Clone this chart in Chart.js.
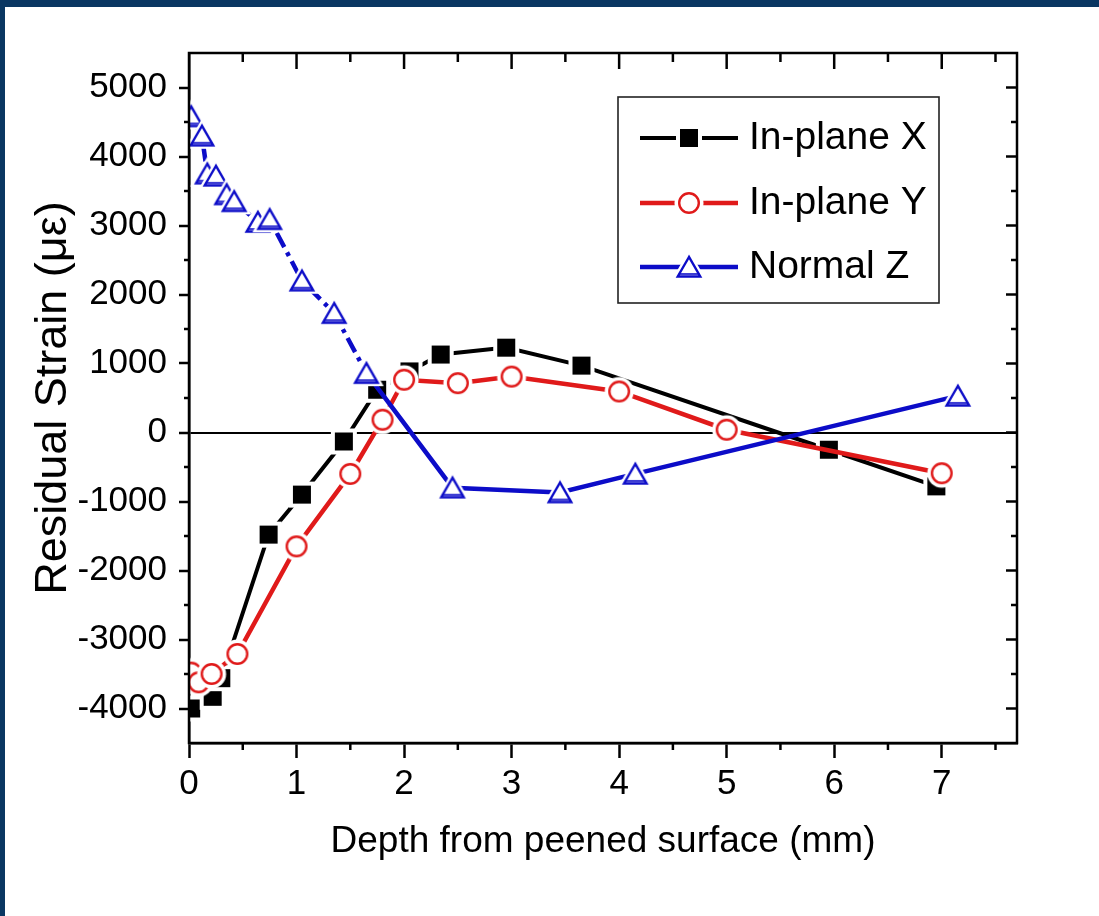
<!DOCTYPE html>
<html>
<head>
<meta charset="utf-8">
<title>Residual strain vs depth</title>
<script src="https://cdn.jsdelivr.net/npm/chart.js@4.4.1/dist/chart.umd.min.js"></script>
<style>
html, body { margin: 0; padding: 0; background: #fff; }
#wrap {
  position: absolute; left: 0; top: 0;
  width: 1094px; height: 909px;
  border-top: 7px solid #0a3762;
  border-left: 5px solid #0a3762;
}
canvas { display: block; }
</style>
</head>
<body>
<div id="wrap"><canvas id="grafica" width="1094" height="909"></canvas></div>
<script>
// depth (mm) and residual strain (micro-strain) per measured direction
const depthX  = [0.02, 0.22, 0.30, 0.74, 1.05, 1.44, 1.75, 2.05, 2.34, 2.95, 3.65, 5.95, 6.95];
const strainX = [-4000, -3830, -3560, -1480, -900, -130, 620, 885, 1130, 1230, 970, -250, -780];

const depthY  = [0.02, 0.09, 0.21, 0.45, 1.0, 1.5, 1.8, 2.0, 2.5, 3.0, 4.0, 5.0, 7.0];
const strainY = [-3480, -3620, -3500, -3210, -1650, -600, 185, 765, 715, 810, 595, 40, -590];

const depthZ  = [0.02, 0.12, 0.17, 0.25, 0.35, 0.42, 0.64, 0.75, 1.05, 1.35, 1.65, 2.45, 3.45, 4.15, 7.15];
const strainZ = [4580, 4300, 3750, 3720, 3450, 3350, 3050, 3090, 2200, 1730, 860, -800, -870, -600, 530];

const seriesNames = ['In-plane X', 'In-plane Y', 'Normal Z'];
const xTicks = [0, 1, 2, 3, 4, 5, 6, 7];
const yTicks = [-4000, -3000, -2000, -1000, 0, 1000, 2000, 3000, 4000, 5000];

const sans = "'Liberation Sans', Arial, sans-serif";

const BLACK = '#000000';
const RED = '#e01a1a';
const BLUE = '#0c0cc8';

function pts(xs, ys) {
  return xs.map((x, i) => ({ x: x, y: ys[i] }));
}

// marker drawn on a small canvas, with a white gap around it so the line stops short
function markerCanvas(kind, color) {
  const s = 36;
  const c = document.createElement('canvas');
  c.width = s; c.height = s;
  const g = c.getContext('2d');
  const m = s / 2;
  if (kind === 'square') {
    g.fillStyle = '#fff';
    g.fillRect(m - 13, m - 13, 26, 26);
    g.fillStyle = color;
    g.fillRect(m - 9, m - 9, 18, 18);
  } else if (kind === 'circle') {
    g.fillStyle = '#fff';
    g.beginPath(); g.arc(m, m, 14.5, 0, Math.PI * 2); g.fill();
    g.strokeStyle = color; g.lineWidth = 2.4;
    g.beginPath(); g.arc(m, m, 9.8, 0, Math.PI * 2); g.fill(); g.stroke();
  } else {
    const r = 13, dy = 3;
    const tri = (rr) => {
      g.beginPath();
      g.moveTo(m, m + dy - rr);
      g.lineTo(m - rr * 0.866, m + dy + rr / 2);
      g.lineTo(m + rr * 0.866, m + dy + rr / 2);
      g.closePath();
    };
    g.fillStyle = '#fff';
    tri(r + 7); g.fill();
    g.strokeStyle = color; g.lineWidth = 2.4;
    tri(r); g.fill(); g.stroke();
    // thicker base, as the plotted triangles have
    g.beginPath();
    g.moveTo(m - r * 0.866 + 1, m + dy + r / 2 - 2.5);
    g.lineTo(m + r * 0.866 - 1, m + dy + r / 2 - 2.5);
    g.lineWidth = 1.6; g.stroke();
  }
  return c;
}

const markX = markerCanvas('square', BLACK);
const markY = markerCanvas('circle', RED);
const markZ = markerCanvas('triangle', BLUE);

// box legend inside the plot area
const boxLegend = {
  id: 'boxLegend',
  afterDraw(chart, args, o) {
    const { ctx, chartArea: a } = chart;
    const left = a.left + o.dx, top = a.top + o.dy;
    ctx.save();
    ctx.fillStyle = '#fff';
    ctx.fillRect(left, top, o.w, o.h);
    ctx.strokeStyle = '#222';
    ctx.lineWidth = 1.6;
    ctx.strokeRect(left, top, o.w, o.h);
    chart.data.datasets.forEach((ds, i) => {
      const yy = top + o.rows[i];
      ctx.strokeStyle = ds.borderColor;
      ctx.lineWidth = ds.borderWidth;
      ctx.setLineDash([]);
      ctx.beginPath();
      ctx.moveTo(left + o.lineL, yy);
      ctx.lineTo(left + o.lineR, yy);
      ctx.stroke();
      const mk = ds.pointStyle;
      const cx = left + (o.lineL + o.lineR) / 2;
      ctx.drawImage(mk, cx - mk.width / 2, yy - mk.height / 2);
      ctx.fillStyle = '#000';
      ctx.font = o.fontSize + 'px ' + sans;
      ctx.textBaseline = 'middle';
      ctx.textAlign = 'left';
      ctx.fillText(ds.label, left + o.textX, yy);
    });
    ctx.restore();
  }
};

// closed frame, minor ticks and inward ticks on top/right
const frame = {
  id: 'frame',
  afterDatasetsDraw(chart) {
    const { ctx, chartArea: a, scales: { x, y } } = chart;
    const seg = (x1, y1, x2, y2) => { ctx.beginPath(); ctx.moveTo(x1, y1); ctx.lineTo(x2, y2); ctx.stroke(); };
    ctx.save();
    ctx.strokeStyle = '#000';
    ctx.lineWidth = 2.5;
    ctx.strokeRect(a.left, a.top, a.right - a.left, a.bottom - a.top);
    for (let v = 0.5; v <= 7.5; v += 0.5) {
      const px = x.getPixelForValue(v);
      const major = v % 1 === 0;
      seg(px, a.top, px, a.top + (major ? 16 : 9));
      if (!major) seg(px, a.bottom, px, a.bottom + 7);
    }
    for (let v = -4000; v <= 5000; v += 500) {
      const py = y.getPixelForValue(v);
      const major = v % 1000 === 0;
      seg(a.right, py, a.right - (major ? 11 : 6), py);
      if (!major) seg(a.left, py, a.left - 5, py);
    }
    ctx.restore();
  }
};

Chart.defaults.font.family = sans;
Chart.defaults.color = '#000';

new Chart(document.getElementById('grafica'), {
  type: 'line',
  data: {
    datasets: [
      {
        label: seriesNames[0],
        data: pts(depthX, strainX),
        borderColor: BLACK,
        borderWidth: 4,
        pointStyle: markX,
        pointRadius: 12,
        order: 2,
        clip: 0
      },
      {
        label: seriesNames[1],
        data: pts(depthY, strainY),
        borderColor: RED,
        borderWidth: 4.5,
        pointStyle: markY,
        pointRadius: 12,
        order: 1,
        clip: 0
      },
      {
        label: seriesNames[2],
        data: pts(depthZ, strainZ),
        borderColor: BLUE,
        borderWidth: 4.5,
        pointStyle: markZ,
        pointRadius: 12,
        order: 0,
        clip: 0,
        segment: {
          borderDash: c => c.p1.parsed.x <= 1.66 ? [16, 6, 4, 6] : undefined
        }
      }
    ]
  },
  options: {
    responsive: false,
    animation: false,
    events: [],
    layout: { padding: { top: 46, right: 82, left: 0, bottom: 0 } },
    plugins: {
      legend: { display: false },
      tooltip: { enabled: false },
      boxLegend: { dx: 429, dy: 44, w: 321, h: 206, rows: [41, 106, 170], lineL: 22, lineR: 120, textX: 131, fontSize: 39 }
    },
    scales: {
      x: {
        type: 'linear',
        min: 0,
        max: 7.7,
        afterBuildTicks: s => { s.ticks = xTicks.map(v => ({ value: v })); },
        afterFit: s => { s.height = 173; },
        border: { color: '#000', width: 2.5 },
        grid: { drawOnChartArea: false, tickColor: '#000', tickWidth: 2.5, tickLength: 15 },
        ticks: {
          autoSkip: false, maxRotation: 0, padding: 5, color: '#000',
          font: { size: 35 },
          callback: v => String(v)
        },
        title: {
          display: true,
          text: 'Depth from peened surface (mm)',
          color: '#000',
          font: { size: 37 },
          padding: { top: 0, bottom: 52 }
        }
      },
      y: {
        min: -4500,
        max: 5500,
        afterBuildTicks: s => { s.ticks = yTicks.map(v => ({ value: v })); },
        afterFit: s => { s.width = 184; },
        border: { color: '#000', width: 2.5 },
        grid: {
          drawOnChartArea: true,
          color: c => (c.tick && c.tick.value === 0) ? '#000' : 'rgba(0,0,0,0)',
          lineWidth: 2,
          tickColor: '#000',
          tickWidth: 2.5,
          tickLength: 10
        },
        ticks: {
          autoSkip: false, padding: 12, color: '#000',
          font: { size: 35 },
          callback: v => String(v)
        },
        title: {
          display: true,
          text: 'Residual Strain (με)',
          color: '#000',
          font: { size: 45 },
          padding: { top: 22, bottom: 0 }
        }
      }
    }
  },
  plugins: [frame, boxLegend]
});
</script>
</body>
</html>
